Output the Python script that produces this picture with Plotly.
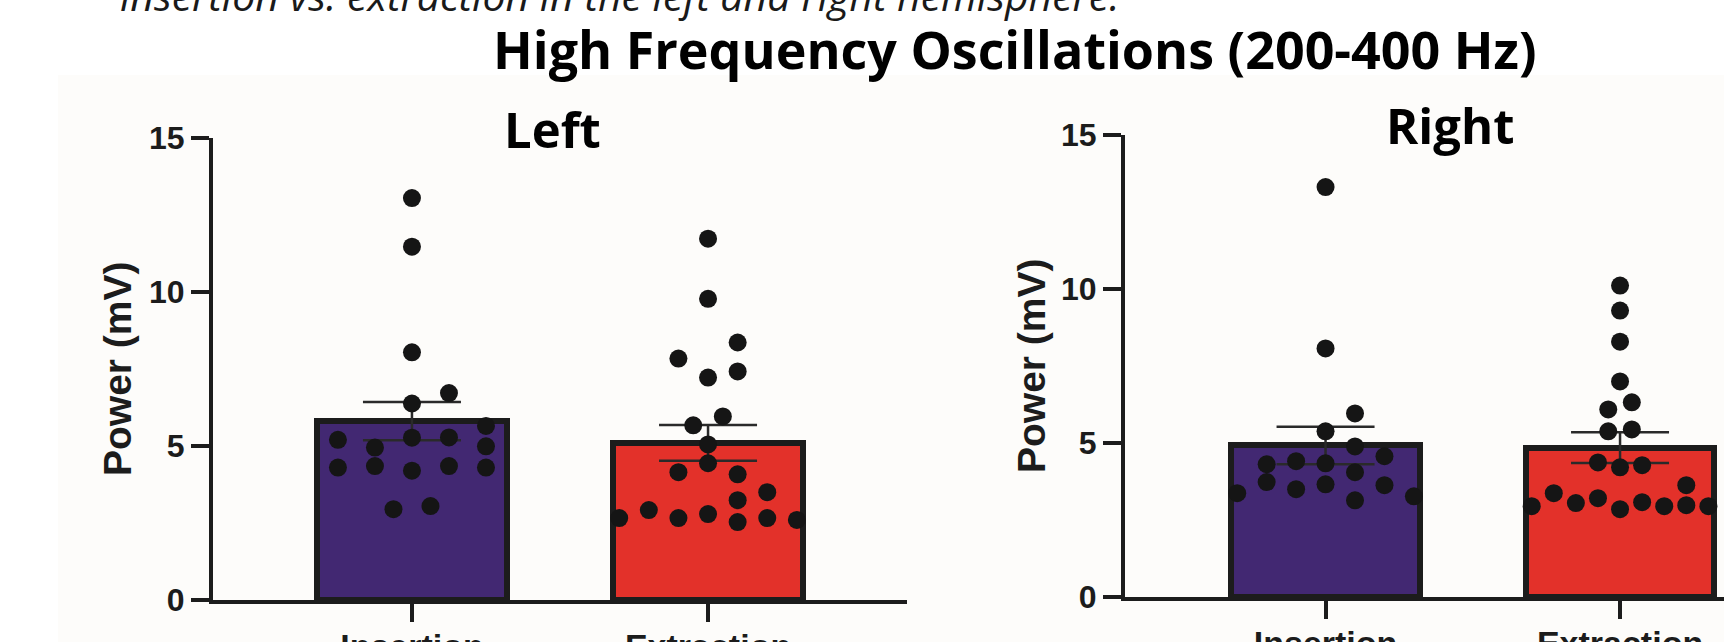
import plotly.graph_objects as go

W, H = 1724, 642

categories = ["Insertion", "Extraction"]
y_ticks = [0, 5, 10, 15]

# Left hemisphere
left_means = [5.81, 5.10]
left_sems = [0.62, 0.58]
left_ins_vals = [13.05, 11.47, 8.04, 6.72, 6.38, 5.65, 5.27, 5.28, 5.2, 4.95, 4.99,
                 4.3, 4.35, 4.2, 4.35, 4.3, 2.95, 3.05]
left_ext_vals = [11.73, 9.78, 8.36, 7.84, 7.42, 7.22, 5.96, 5.67, 5.05, 4.44, 4.15,
                 4.08, 3.5, 3.24, 2.66, 2.92, 2.66, 2.79, 2.53, 2.66, 2.6]

# Right hemisphere
right_means = [4.92, 4.85]
right_sems = [0.61, 0.50]
right_ins_vals = [13.31, 8.07, 5.96, 5.38, 4.89, 4.57, 4.31, 4.41, 4.34, 4.05, 3.73,
                  3.5, 3.66, 3.63, 3.37, 3.27, 3.14]
right_ext_vals = [10.11, 9.3, 8.29, 7.0, 6.32, 6.09, 5.38, 5.44, 4.37, 4.21, 4.28,
                  3.63, 3.37, 3.21, 3.08, 3.05, 2.85, 2.95, 2.98, 2.95, 2.95]

# swarm column offsets (category units)
left_ins_dx = [0, 0, 0, 0.125, 0, 0.25, 0, 0.125, -0.25, -0.125, 0.25,
               -0.25, -0.125, 0, 0.125, 0.25, -0.0625, 0.0625]
left_ext_dx = [0, 0, 0.1, -0.1, 0.1, 0, 0.05, -0.05, 0, 0, -0.1,
               0.1, 0.2, 0.1, -0.3, -0.2, -0.1, 0, 0.1, 0.2, 0.3]
right_ins_dx = [0, 0, 0.1, 0, 0.1, 0.2, -0.2, -0.1, 0, 0.1, -0.2,
                -0.1, 0, 0.2, -0.3, 0.3, 0.1]
right_ext_dx = [0, 0, 0, 0, 0.04, -0.04, -0.04, 0.04, -0.075, 0, 0.075,
                0.225, -0.225, -0.075, 0.075, -0.15, 0, 0.15, 0.225, -0.3, 0.3]

PURPLE = "#422872"
RED = "#e3312a"
INK = "#1c1c1c"
DOT = "#151515"

fig = go.Figure()


def add_panel(means, sems, ins_vals, ins_dx, ext_vals, ext_dx, xa, ya):
    fig.add_trace(go.Bar(
        x=[0, 1], y=means, width=0.64,
        marker=dict(color=[PURPLE, RED], line=dict(color=INK, width=6)),
        error_y=dict(type="data", array=sems, visible=True, color="#2a2a2a",
                     thickness=2.5, width=49),
        xaxis=xa, yaxis=ya, showlegend=False, hoverinfo="skip"))
    for c, vals, dx in ((0, ins_vals, ins_dx), (1, ext_vals, ext_dx)):
        fig.add_trace(go.Scatter(
            x=[c + d for d in dx], y=vals, mode="markers",
            marker=dict(size=18, color=DOT, line=dict(width=0)),
            xaxis=xa, yaxis=ya, showlegend=False, cliponaxis=False))


add_panel(left_means, left_sems, left_ins_vals, left_ins_dx,
          left_ext_vals, left_ext_dx, "x", "y")
add_panel(right_means, right_sems, right_ins_vals, right_ins_dx,
          right_ext_vals, right_ext_dx, "x2", "y2")

tickfont = dict(family="Liberation Sans, Arial", size=32, color=INK, weight="bold")
xcommon = dict(tickvals=[0, 1], ticktext=categories, ticks="outside", ticklen=18,
               tickwidth=4, tickcolor=INK, showline=True, linewidth=4, linecolor=INK,
               showgrid=False, zeroline=False, tickfont=dict(tickfont, size=34),
               fixedrange=True, automargin=False, ticklabelstandoff=-5)
ycommon = dict(range=[0, 15], tickvals=y_ticks, ticks="outside", ticklen=18,
               tickwidth=4, tickcolor=INK, showline=True, linewidth=4, linecolor=INK,
               showgrid=False, zeroline=False, tickfont=tickfont, fixedrange=True,
               automargin=False)


def px_x(p):
    return p / W


def px_y(p):
    return (H - p) / H


fig.update_layout(
    width=W, height=H, margin=dict(l=0, r=0, t=0, b=0, pad=0, autoexpand=False),
    paper_bgcolor="white", plot_bgcolor="rgba(0,0,0,0)",
    bargap=0,
    xaxis=dict(xcommon, domain=[px_x(213), px_x(907)], range=[-0.672, 1.672], anchor="y"),
    yaxis=dict(ycommon, domain=[px_y(600), px_y(138)], anchor="x"),
    xaxis2=dict(xcommon, domain=[px_x(1125), 1.0], range=[-0.681, 1.353], anchor="y2"),
    yaxis2=dict(ycommon, domain=[px_y(597), px_y(135)], anchor="x2"),
    shapes=[dict(type="rect", xref="paper", yref="paper", x0=px_x(58), x1=1.0,
                 y0=0, y1=px_y(75), fillcolor="#fdfcfa", line=dict(width=0),
                 layer="below")],
)

title_font = dict(family="Open Sans", size=52, color="black", weight="bold")
sub_font = dict(family="Open Sans", size=49, color="black", weight="bold")
ylab_font = dict(family="Liberation Sans, Arial", size=39, color=INK, weight="bold")

annotations = [
    dict(text="insertion vs. extraction in the left and right hemisphere.",
         x=px_x(620), y=px_y(-5), xref="paper", yref="paper", xanchor="center",
         yanchor="middle", showarrow=False,
         font=dict(family="Open Sans", size=41, color="#1a1a1a", style="italic")),
    dict(text="High Frequency Oscillations (200-400 Hz)", x=px_x(1015), y=px_y(49),
         xref="paper", yref="paper", xanchor="center", yanchor="middle",
         showarrow=False, font=title_font),
    dict(text="Left", x=px_x(552), y=px_y(129), xref="paper", yref="paper",
         xanchor="center", yanchor="middle", showarrow=False, font=sub_font),
    dict(text="Right", x=px_x(1450), y=px_y(125), xref="paper", yref="paper",
         xanchor="center", yanchor="middle", showarrow=False, font=sub_font),
    dict(text="Power (mV)", x=px_x(117), y=px_y(369), xref="paper", yref="paper",
         xanchor="center", yanchor="middle", textangle=-90, showarrow=False,
         font=ylab_font),
    dict(text="Power (mV)", x=px_x(1032), y=px_y(366), xref="paper", yref="paper",
         xanchor="center", yanchor="middle", textangle=-90, showarrow=False,
         font=ylab_font),
]
fig.update_layout(annotations=annotations)

fig.write_html("out.html")
